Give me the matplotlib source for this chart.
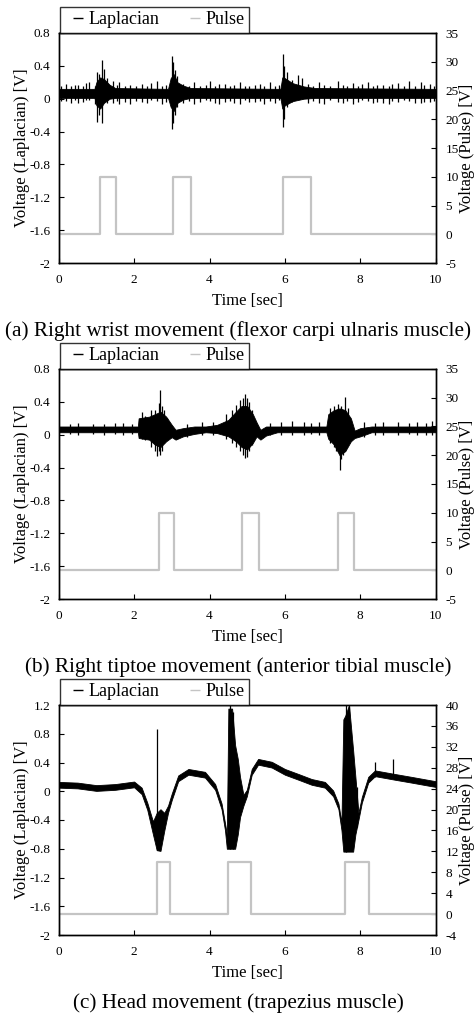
import matplotlib
matplotlib.use("Agg")
import matplotlib.pyplot as plt
from matplotlib.ticker import FuncFormatter
from matplotlib.lines import Line2D

plt.rcParams['font.family'] = ['Liberation Serif', 'DejaVu Serif']
plt.rcParams['axes.unicode_minus'] = False

# ---------------- data ----------------
captions = ["(a) Right wrist movement (flexor carpi ulnaris muscle)",
            "(b) Right tiptoe movement (anterior tibial muscle)",
            "(c) Head movement (trapezius muscle)"]

# pulse on/off times [sec], pulse level [V]
pulse_on_a = [1.10, 3.04, 5.96]
pulse_off_a = [1.52, 3.51, 6.69]
pulse_on_b = [2.65, 4.86, 7.42]
pulse_off_b = [3.05, 5.31, 7.82]
pulse_on_c = [2.61, 4.48, 7.59]
pulse_off_c = [2.96, 5.09, 8.23]
pulse_level = 10

# Laplacian signal envelope (upper / lower)
t_a = [0.0, 0.95, 1.0, 1.1, 1.2, 1.35, 1.5, 2.9, 2.97, 3.05, 3.15, 3.3, 3.5,
       5.88, 5.93, 6.0, 6.2, 6.5, 6.8, 10.0]
hi_a = [0.12, 0.12, 0.2, 0.26, 0.24, 0.17, 0.13, 0.12, 0.25, 0.3, 0.2, 0.16, 0.13,
        0.12, 0.26, 0.25, 0.19, 0.15, 0.13, 0.12]
lo_a = [0.01, 0.01, -0.08, -0.12, -0.05, 0.0, 0.01, 0.01, -0.1, -0.15, -0.05, -0.01, 0.01,
        0.01, -0.12, -0.08, -0.03, 0.0, 0.01, 0.01]
spk_t_a = [1.02, 1.08, 1.14, 1.2, 1.28, 3.0, 3.03, 3.08, 3.15, 5.94, 5.97, 6.05, 6.35, 6.45,
           0.05, 0.2, 0.32, 0.42, 0.5, 0.65, 0.72, 0.8, 0.95, 1.45, 1.55, 1.6, 1.75, 1.9,
           2.05, 2.2, 2.35, 2.45, 2.6, 2.75, 2.85, 3.3, 3.45, 3.6, 3.75, 3.9, 4.0, 4.15,
           4.25, 4.4, 4.55, 4.65, 4.8, 4.95, 5.05, 5.2, 5.35, 5.45, 5.6, 5.75, 5.85, 6.2,
           6.6, 6.75, 6.9, 7.05, 7.2, 7.4, 7.55, 7.65, 7.8, 7.95, 8.05, 8.2, 8.35, 8.45,
           8.6, 8.75, 8.85, 9.0, 9.15, 9.3, 9.45, 9.6, 9.7, 9.85, 9.95]
spk_hi_a = [0.33, 0.3, 0.47, 0.36, 0.25, 0.52, 0.45, 0.35, 0.28, 0.55, 0.4, 0.33, 0.29, 0.25,
            0.16, 0.18, 0.15, 0.17, 0.17, 0.16, 0.19, 0.2, 0.15, 0.22, 0.17, 0.2, 0.16, 0.17,
            0.15, 0.18, 0.16, 0.19, 0.21, 0.15, 0.17, 0.18, 0.16, 0.2, 0.15, 0.17, 0.21, 0.16,
            0.18, 0.18, 0.15, 0.17, 0.2, 0.16, 0.15, 0.17, 0.18, 0.16, 0.2, 0.15, 0.17, 0.23,
            0.18, 0.16, 0.2, 0.17, 0.15, 0.22, 0.17, 0.16, 0.19, 0.15, 0.18, 0.2, 0.16, 0.17,
            0.17, 0.15, 0.18, 0.19, 0.16, 0.21, 0.15, 0.2, 0.17, 0.18, 0.16]
spk_lo_a = [-0.28, -0.2, -0.29, 0.0, -0.05, -0.37, -0.3, -0.2, -0.1, -0.34, -0.25, -0.1, 0.0, 0.0,
            -0.03, -0.03, -0.05, -0.02, -0.05, -0.04, -0.02, -0.02, -0.06, -0.05, -0.03, -0.06,
            -0.04, -0.07, -0.03, -0.04, -0.05, -0.02, -0.03, -0.06, -0.04, -0.05, -0.03, -0.06,
            -0.04, -0.02, -0.03, -0.05, -0.06, -0.04, -0.03, -0.05, -0.06, -0.02, -0.04, -0.04,
            -0.03, -0.06, -0.03, -0.05, -0.02, -0.04, -0.05, -0.03, -0.05, -0.06, -0.02, -0.04,
            -0.05, -0.03, -0.06, -0.04, -0.02, -0.03, -0.05, -0.04, -0.05, -0.06, -0.03, -0.04,
            -0.02, -0.03, -0.05, -0.05, -0.04, -0.04, -0.03]

t_b = [0.0, 2.1, 2.12, 2.4, 2.55, 2.7, 2.85, 3.0, 3.1, 3.3, 3.6, 3.9, 4.2, 4.5, 4.7,
       4.85, 5.0, 5.15, 5.25, 5.35, 5.5, 5.8, 7.1, 7.15, 7.3, 7.45, 7.6, 7.75, 7.85,
       8.0, 8.3, 10.0]
hi_b = [0.1, 0.1, 0.2, 0.22, 0.25, 0.28, 0.22, 0.12, 0.06, 0.08, 0.1, 0.1, 0.12, 0.18,
        0.28, 0.35, 0.35, 0.25, 0.15, 0.06, 0.1, 0.1, 0.1, 0.25, 0.3, 0.32, 0.3, 0.2,
        0.05, 0.08, 0.1, 0.1]
lo_b = [0.03, 0.03, -0.04, -0.06, -0.12, -0.15, -0.08, -0.03, -0.06, -0.02, 0.01, 0.03,
        0.02, -0.02, -0.08, -0.15, -0.18, -0.1, -0.02, -0.06, -0.01, 0.03, 0.03, -0.05,
        -0.12, -0.25, -0.2, -0.08, -0.04, -0.02, 0.03, 0.03]
spk_t_b = [2.2, 2.3, 2.45, 2.55, 2.6, 2.65, 2.69, 2.75, 2.8, 2.88, 4.45, 4.6, 4.7, 4.8, 4.88,
           4.94, 5.0, 5.05, 5.12, 7.2, 7.3, 7.35, 7.4, 7.46, 7.5, 7.55, 7.6, 7.68,
           0.3, 0.5, 0.9, 1.2, 1.5, 1.7, 1.95, 3.4, 3.8, 4.1, 5.6, 5.9, 6.2, 6.5, 6.7,
           6.9, 8.1, 8.4, 8.6, 9.0, 9.3, 9.5, 9.75, 9.9]
spk_hi_b = [0.28, 0.23, 0.3, 0.3, 0.25, 0.38, 0.54, 0.35, 0.3, 0.2, 0.25, 0.3, 0.36, 0.42,
            0.45, 0.5, 0.45, 0.4, 0.3, 0.33, 0.35, 0.3, 0.37, 0.3, 0.35, 0.3, 0.46, 0.32,
            0.13, 0.14, 0.13, 0.13, 0.14, 0.14, 0.13, 0.13, 0.16, 0.15, 0.14, 0.15, 0.17,
            0.16, 0.14, 0.15, 0.15, 0.14, 0.16, 0.15, 0.14, 0.16, 0.14, 0.17]
spk_lo_b = [-0.05, -0.07, -0.15, -0.2, -0.26, -0.2, -0.25, -0.2, -0.1, -0.05, -0.05, -0.1,
            -0.15, -0.2, -0.25, -0.28, -0.27, -0.2, -0.12, -0.1, -0.15, -0.2, -0.2, -0.43,
            -0.3, -0.25, -0.2, -0.1, 0.01, 0.0, 0.01, 0.0, 0.01, 0.0, 0.01, -0.03, 0.0, 0.0,
            0.0, 0.0, 0.0, 0.0, 0.01, 0.0, -0.03, 0.0, 0.0, 0.0, 0.01, 0.0, 0.0, 0.0]

t_c = [0.0, 0.5, 1.0, 1.5, 2.0, 2.2, 2.35, 2.5, 2.6, 2.7, 2.8, 2.9, 3.0, 3.17, 3.44, 3.88,
       4.15, 4.32, 4.41, 4.46, 4.5, 4.6, 4.68, 4.75, 4.81, 4.9, 4.99, 5.12, 5.29, 5.65, 6.0,
       6.36, 6.71, 7.06, 7.28, 7.42, 7.5, 7.55, 7.6, 7.7, 7.81, 7.87, 7.95, 8.04, 8.21,
       8.39, 8.92, 9.36, 9.89, 10.0]
hi_c = [0.13, 0.12, 0.085, 0.1, 0.135, 0.05, -0.16, -0.42, -0.3, -0.25, -0.3, -0.2, -0.03,
        0.22, 0.31, 0.27, 0.1, -0.17, -0.44, -0.6, 1.15, 1.15, 0.64, 0.45, 0.2, -0.05, 0.02,
        0.31, 0.45, 0.41, 0.31, 0.24, 0.17, 0.13, 0.01, -0.17, -0.44, 1.0, 1.05, 1.2, 0.57,
        0.2, -0.3, -0.08, 0.2, 0.29, 0.24, 0.2, 0.15, 0.14]
lo_c = [0.05, 0.04, 0.005, 0.02, 0.055, -0.04, -0.26, -0.6, -0.82, -0.83, -0.55, -0.3,
        -0.12, 0.14, 0.23, 0.19, 0.02, -0.25, -0.54, -0.8, -0.8, -0.8, -0.8, -0.6, -0.36,
        -0.2, -0.07, 0.23, 0.37, 0.33, 0.23, 0.16, 0.09, 0.05, -0.07, -0.25, -0.54, -0.84,
        -0.84, -0.84, -0.84, -0.6, -0.4, -0.16, 0.12, 0.21, 0.16, 0.12, 0.07, 0.06]
spk_t_c = [2.6, 4.55, 4.62, 7.62, 7.7, 7.9, 8.39, 8.86]
spk_hi_c = [0.87, 1.2, 1.1, 1.2, 1.2, 0.06, 0.41, 0.45]
spk_lo_c = [-0.82, -0.8, -0.8, -0.84, -0.8, -0.5, 0.2, 0.18]

panels = [
    dict(t=t_a, hi=hi_a, lo=lo_a, st=spk_t_a, sh=spk_hi_a, sl=spk_lo_a,
         on=pulse_on_a, off=pulse_off_a, ylim=(-2, 0.8), yticks=[0.8, 0.4, 0, -0.4, -0.8, -1.2, -1.6, -2],
         y2lim=(-5, 35), y2ticks=[35, 30, 25, 20, 15, 10, 5, 0, -5]),
    dict(t=t_b, hi=hi_b, lo=lo_b, st=spk_t_b, sh=spk_hi_b, sl=spk_lo_b,
         on=pulse_on_b, off=pulse_off_b, ylim=(-2, 0.8), yticks=[0.8, 0.4, 0, -0.4, -0.8, -1.2, -1.6, -2],
         y2lim=(-5, 35), y2ticks=[35, 30, 25, 20, 15, 10, 5, 0, -5]),
    dict(t=t_c, hi=hi_c, lo=lo_c, st=spk_t_c, sh=spk_hi_c, sl=spk_lo_c,
         on=pulse_on_c, off=pulse_off_c, ylim=(-2, 1.2), yticks=[1.2, 0.8, 0.4, 0, -0.4, -0.8, -1.2, -1.6, -2],
         y2lim=(-4, 40), y2ticks=[40, 36, 32, 28, 24, 20, 16, 12, 8, 4, 0, -4]),
]

# ---------------- layout ----------------
W, H = 476, 1015
fig = plt.figure(figsize=(W / 100, H / 100), dpi=100)
axes_px = [(33, 263), (369, 599), (705, 935)]   # top, bottom in pixels
left_px, right_px = 58.7, 435.7
fmt = FuncFormatter(lambda v, p: ('%g' % v))
pulse_color = '#c4c4c4'

for i, (p, (top, bot)) in enumerate(zip(panels, axes_px)):
    ax = fig.add_axes([left_px / W, 1 - bot / H, (right_px - left_px) / W, (bot - top) / H])
    ax2 = ax.twinx()
    ax.set_zorder(ax2.get_zorder() + 1)
    ax.patch.set_visible(False)

    # pulse as step series
    pt, pv = [0.0], [0]
    for a, b in zip(p['on'], p['off']):
        pt += [a, a, b, b]
        pv += [0, pulse_level, pulse_level, 0]
    pt.append(10.0)
    pv.append(0)
    ax2.plot(pt, pv, color=pulse_color, lw=1.6)

    # Laplacian
    ax.fill_between(p['t'], p['lo'], p['hi'], color='black', lw=0.6)
    ax.vlines(p['st'], p['sl'], p['sh'], color='black', lw=0.9)

    ax.set_xlim(0, 10)
    ax.set_xticks([0, 2, 4, 6, 8, 10])
    ax.set_ylim(*p['ylim'])
    ax.set_yticks(p['yticks'])
    ax2.set_ylim(*p['y2lim'])
    ax2.set_yticks(p['y2ticks'])
    ax.yaxis.set_major_formatter(fmt)
    ax2.yaxis.set_major_formatter(fmt)
    ax.xaxis.set_major_formatter(fmt)

    ax.tick_params(axis='both', direction='in', length=3.5, width=0.8, labelsize=9.5)
    ax.tick_params(axis='x', pad=8)
    ax.tick_params(axis='y', pad=6)
    ax2.tick_params(axis='y', direction='in', length=3.5, width=0.8, labelsize=9.5, pad=7)
    for a_ in (ax, ax2):
        for s in a_.spines.values():
            s.set_linewidth(1.0)

    ax.set_xlabel('Time [sec]', fontsize=12)
    ax.xaxis.set_label_coords(0.5, -38 / 230)
    ax.xaxis.label.set_va('center')
    ax.set_ylabel('Voltage (Laplacian) [V]', fontsize=12)
    ax.yaxis.set_label_coords((22 - left_px) / (right_px - left_px), 0.5)
    ax.yaxis.label.set_va('center')
    ax2.set_ylabel('Voltage (Pulse) [V]', fontsize=12)
    ax2.yaxis.set_label_coords((467 - left_px) / (right_px - left_px), 0.5)
    ax2.yaxis.label.set_va('center')

    handles = [Line2D([], [], color='black', marker='_', ls='none', markersize=7, markeredgewidth=1.0),
               Line2D([], [], color=pulse_color, marker='_', ls='none', markersize=7, markeredgewidth=1.0)]
    leg = ax.legend(handles, ['Laplacian', 'Pulse'], ncol=2, loc='lower left',
                    bbox_to_anchor=((60 - left_px) / (right_px - left_px), 1.0),
                    borderaxespad=0, frameon=True, fancybox=False, fontsize=13,
                    handlelength=1.5, handletextpad=-0.15, columnspacing=1.2,
                    borderpad=0.25)
    leg.get_frame().set_edgecolor('black')
    leg.get_frame().set_linewidth(1.0)

    cap_y = bot + 68
    fig.text(0.5, 1 - cap_y / H, captions[i], ha='center', va='center', fontsize=15.3)

fig.savefig('out.png', dpi=100)
